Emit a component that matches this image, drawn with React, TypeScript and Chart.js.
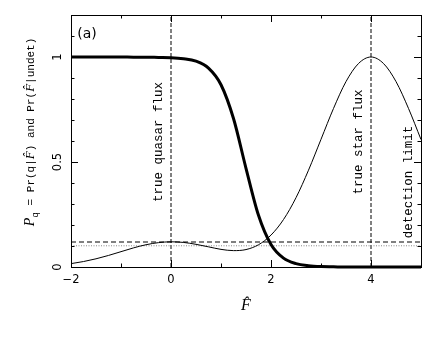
import { useEffect, useRef } from 'react';
import { Chart, registerables } from 'chart.js';

Chart.register(...registerables);

// Estimated flux grid (F-hat) and curves
const fluxGrid = [-2, -1.75, -1.5, -1.25, -1, -0.75, -0.5, -0.25, 0, 0.25, 0.5, 0.75, 1, 1.25, 1.5, 1.75, 2, 2.25, 2.5, 2.75, 3, 3.25, 3.5, 3.75, 4, 4.25, 4.5, 4.75, 5];
const quasarProb = [1.0, 1.0, 1.0, 1.0, 1.0, 0.999, 0.999, 0.998, 0.997, 0.992, 0.98, 0.947, 0.868, 0.707, 0.47, 0.246, 0.107, 0.042, 0.016, 0.006, 0.002, 0.001, 0, 0, 0, 0, 0, 0, 0];
const undetProb = [0.016, 0.026, 0.039, 0.055, 0.073, 0.091, 0.106, 0.116, 0.12, 0.117, 0.108, 0.096, 0.084, 0.078, 0.083, 0.106, 0.152, 0.226, 0.33, 0.461, 0.608, 0.755, 0.883, 0.969, 1.0, 0.969, 0.883, 0.755, 0.607];

const trueQuasarFlux = 0;
const trueStarFlux = 4;
const dashedLevel = 0.119;
const dottedLevel = 0.101;

const xMin = -2;
const xMax = 5;
const yMin = 0;
const yMax = 1.2;
const xTickValues = [-2, -1, 0, 1, 2, 3, 4, 5];
const xLabelValues = [-2, 0, 2, 4];
const yTickValues = [0, 0.1, 0.2, 0.3, 0.4, 0.5, 0.6, 0.7, 0.8, 0.9, 1.0, 1.1, 1.2];
const yLabelValues = [0, 0.5, 1];
const yLabelText = ['0', '0.5', '1'];

const MONO = '"Liberation Mono", "DejaVu Sans Mono", monospace';
const SERIF = '"Liberation Serif", "DejaVu Serif", serif';
const SANS = '"DejaVu Sans", "Liberation Sans", sans-serif';

function rotText(ctx: CanvasRenderingContext2D, text: string, x: number, y: number, font: string) {
  ctx.save();
  ctx.translate(x, y);
  ctx.rotate(-Math.PI / 2);
  ctx.font = font;
  ctx.textAlign = 'center';
  ctx.textBaseline = 'middle';
  ctx.fillText(text, 0, 0);
  ctx.restore();
}

const overlay = {
  id: 'overlay',
  afterDatasetsDraw(chart: any) {
    const { ctx, chartArea: a, scales } = chart;
    const xs = scales.x;
    const ys = scales.y;
    ctx.save();
    ctx.fillStyle = '#000';
    ctx.strokeStyle = '#000';
    ctx.lineWidth = 1;
    ctx.setLineDash([]);
    ctx.strokeRect(Math.round(a.left) + 0.5, Math.round(a.top) + 0.5, Math.round(a.right - a.left), Math.round(a.bottom - a.top));

    ctx.beginPath();
    for (const v of yTickValues) {
      const py = Math.round(ys.getPixelForValue(v)) + 0.5;
      const major = yLabelValues.some((m) => Math.abs(m - v) < 1e-6);
      const len = major ? 7 : 3.5;
      ctx.moveTo(a.left, py);
      ctx.lineTo(a.left + len, py);
      ctx.moveTo(a.right, py);
      ctx.lineTo(a.right - len, py);
    }
    for (const v of xTickValues) {
      const px = Math.round(xs.getPixelForValue(v)) + 0.5;
      const major = xLabelValues.includes(v);
      const len = major ? 7 : 3.5;
      ctx.moveTo(px, a.bottom);
      ctx.lineTo(px, a.bottom - len);
      ctx.moveTo(px, a.top);
      ctx.lineTo(px, a.top + len);
    }
    ctx.stroke();

    // tick labels
    ctx.font = '11.5px ' + SANS;
    ctx.textAlign = 'center';
    ctx.textBaseline = 'middle';
    for (const v of xLabelValues) {
      const s = v < 0 ? '\u2212' + Math.abs(v) : String(v);
      ctx.fillText(s, xs.getPixelForValue(v), a.bottom + 13);
    }
    yLabelValues.forEach((v, i) => {
      rotText(ctx, yLabelText[i], a.left - 13, ys.getPixelForValue(v), '11.5px ' + SANS);
    });

    // panel label
    ctx.font = '14px ' + SANS;
    ctx.textAlign = 'center';
    ctx.textBaseline = 'middle';
    ctx.fillText('(a)', a.left + 16, a.top + 19);

    // annotations
    rotText(ctx, 'true quasar flux', xs.getPixelForValue(trueQuasarFlux) - 12, 142, '12.5px ' + MONO);
    rotText(ctx, 'true star flux', xs.getPixelForValue(trueStarFlux) - 12, 142, '12.5px ' + MONO);
    rotText(ctx, 'detection limit', a.right - 12, 182, '12.5px ' + MONO);

    // x title
    ctx.font = 'italic 16px ' + SERIF;
    ctx.textAlign = 'center';
    ctx.textBaseline = 'middle';
    ctx.fillText('F\u0302', xs.getPixelForValue(1.5), 306);

    // y title with subscript
    const parts = [
      { t: 'P', f: 'italic 14px ' + SERIF, dy: 0 },
      { t: 'q', f: '9.5px ' + MONO, dy: 4 },
      { t: ' = Pr(q|', f: '11px ' + MONO, dy: 0 },
      { t: 'F\u0302', f: 'italic 13px ' + SERIF, dy: 0 },
      { t: ') and Pr(', f: '11px ' + MONO, dy: 0 },
      { t: 'F\u0302', f: 'italic 13px ' + SERIF, dy: 0 },
      { t: '|undet)', f: '11px ' + MONO, dy: 0 },
    ];
    let total = 0;
    const widths = parts.map((p) => {
      ctx.font = p.f;
      const w = ctx.measureText(p.t).width;
      total += w;
      return w;
    });
    ctx.save();
    ctx.translate(34, 132);
    ctx.rotate(-Math.PI / 2);
    ctx.textAlign = 'left';
    ctx.textBaseline = 'alphabetic';
    let cx = -total / 2;
    parts.forEach((p, i) => {
      ctx.font = p.f;
      ctx.fillText(p.t, cx, p.dy);
      cx += widths[i];
    });
    ctx.restore();

    ctx.restore();
  },
};

export default function App() {
  const ref = useRef<HTMLCanvasElement | null>(null);
  useEffect(() => {
    document.body.style.margin = '0';
    const canvas = ref.current;
    if (!canvas) return;
    const pairs = (ys: number[]) => fluxGrid.map((x, i) => ({ x, y: ys[i] }));
    const chart = new Chart(canvas, {
      type: 'line',
      data: {
        datasets: [
          {
            data: pairs(quasarProb),
            borderColor: '#000',
            borderWidth: 3,
            pointRadius: 0,
            cubicInterpolationMode: 'monotone',
            clip: 4,
          },
          {
            data: pairs(undetProb),
            borderColor: '#000',
            borderWidth: 1,
            pointRadius: 0,
            cubicInterpolationMode: 'monotone',
            clip: 4,
          },
          {
            data: [{ x: xMin, y: dashedLevel }, { x: xMax, y: dashedLevel }],
            borderColor: '#000',
            borderWidth: 1,
            borderDash: [5, 3],
            pointRadius: 0,
          },
          {
            data: [{ x: xMin, y: dottedLevel }, { x: xMax, y: dottedLevel }],
            borderColor: '#888',
            borderWidth: 1,
            borderDash: [1, 1.5],
            pointRadius: 0,
          },
          {
            data: [{ x: trueQuasarFlux, y: yMin }, { x: trueQuasarFlux, y: yMax }],
            borderColor: '#000',
            borderWidth: 1,
            borderDash: [4, 2],
            pointRadius: 0,
          },
          {
            data: [{ x: trueStarFlux, y: yMin }, { x: trueStarFlux, y: yMax }],
            borderColor: '#000',
            borderWidth: 1,
            borderDash: [4, 2],
            pointRadius: 0,
          },
        ],
      },
      options: {
        animation: false,
        responsive: false,
        events: [],
        layout: { padding: { left: 71, right: 15, top: 15, bottom: 71 } },
        plugins: { legend: { display: false }, tooltip: { enabled: false } },
        scales: {
          x: { type: 'linear', min: xMin, max: xMax, display: false },
          y: { type: 'linear', min: yMin, max: yMax, display: false },
        },
      },
      plugins: [overlay],
    } as any);
    return () => chart.destroy();
  }, []);
  return <canvas ref={ref} width={436} height={338} style={{ display: 'block' }} />;
}
